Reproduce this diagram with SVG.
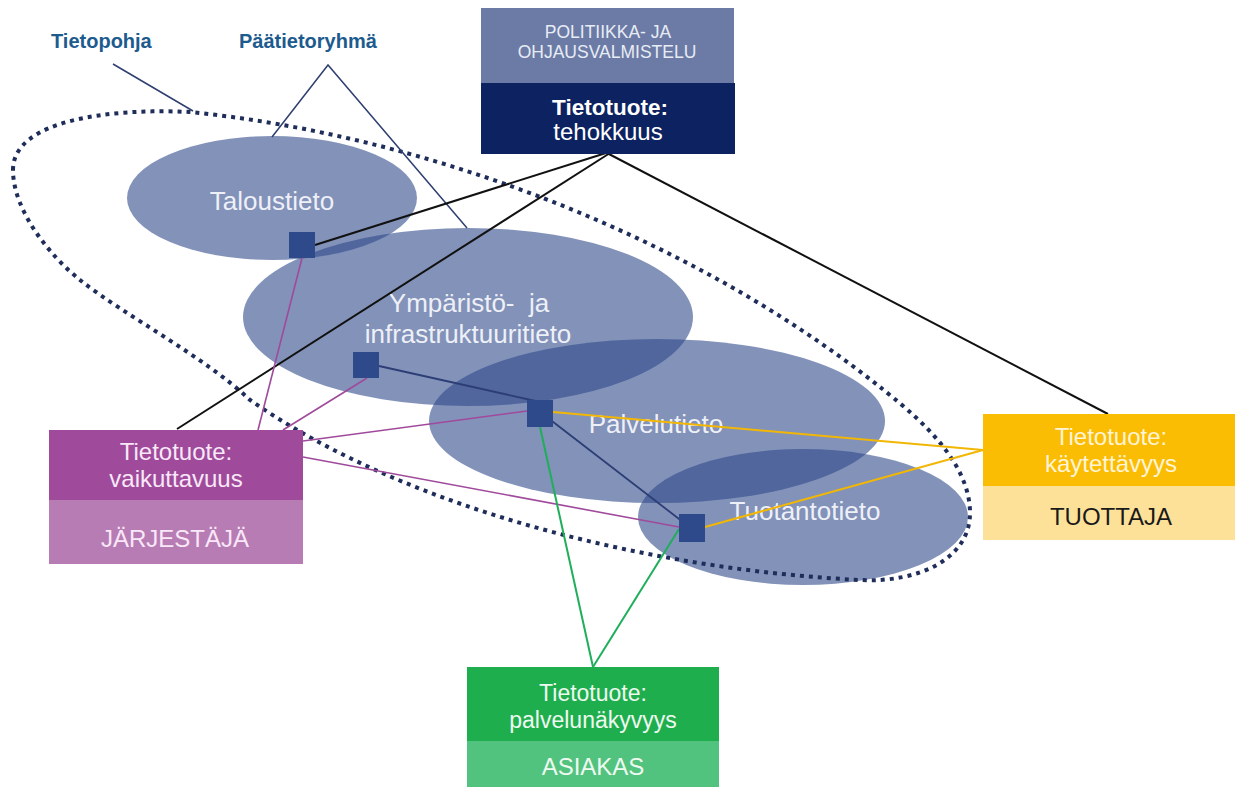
<svg xmlns="http://www.w3.org/2000/svg" width="1235" height="787" viewBox="0 0 1235 787">
  <style>
    text { font-family: "Liberation Sans", Arial, sans-serif; text-anchor: middle; }
    .blob { fill: #2f4a8a; fill-opacity: 0.6; }
    .blobtxt { font-size: 26px; fill: #eef0f7; white-space: pre; }
    .hub { fill: #2e4a8a; }
    .lbl { font-size: 20px; font-weight: bold; fill: #1d5b8e; text-anchor: start; }
    .boxtxt { font-size: 24px; }
    .c-lead { stroke: #2e3f70; stroke-width: 1.5; fill: none; }
    .c-black { stroke: #111; stroke-width: 2; fill: none; }
    .c-purple { stroke: #a04a9c; stroke-width: 1.6; fill: none; }
    .c-navy { stroke: #2c3e75; stroke-width: 1.8; fill: none; }
    .c-yellow { stroke: #f2b705; stroke-width: 2; fill: none; }
    .c-green { stroke: #1fae5a; stroke-width: 2; fill: none; }
  </style>

  <rect width="1235" height="787" fill="#ffffff"/>

  <!-- data group ellipses -->
  <g id="talous">
    <ellipse class="blob" cx="272" cy="198" rx="145" ry="62"/>
    <text class="blobtxt" x="272" y="210">Taloustieto</text>
  </g>
  <g id="ymparisto">
    <ellipse class="blob" cx="468" cy="317" rx="225" ry="89"/>
    <text class="blobtxt" x="469" y="312">Ympäristö-  ja</text>
    <text class="blobtxt" x="468" y="343">infrastruktuuritieto</text>
  </g>
  <g id="palvelu">
    <ellipse class="blob" cx="657" cy="421" rx="228" ry="82"/>
    <text class="blobtxt" x="656" y="433">Palvelutieto</text>
  </g>
  <g id="tuotanto">
    <ellipse class="blob" cx="803" cy="517" rx="165" ry="68"/>
    <text class="blobtxt" x="805" y="520">Tuotantotieto</text>
  </g>

  <!-- knowledge base outline -->
  <g id="tietopohja-outline">
    <path d="M13,170 C13,120 110,108 190,112 C420,135 685,232 880,387 C911,412 970,458 970,513 C970,558 920,583 860,580 C660,570 414,514 250,400 C205,357 127,317 80,280 C49,255 13,210 13,170 Z"
          fill="none" stroke="#1f2d5a" stroke-width="4" stroke-dasharray="4 5"/>
  </g>

  <!-- labels -->
  <g id="label-tietopohja">
    <text class="lbl" x="51" y="48">Tietopohja</text>
  </g>
  <g id="label-paatietoryhma">
    <text class="lbl" x="239" y="48">Päätietoryhmä</text>
  </g>

  <!-- connectors -->
  <g id="connectors">
    <line class="c-lead" x1="113" y1="64" x2="193" y2="111"/>
    <polyline class="c-lead" points="272,137 328,65 467,228"/>

    <line class="c-black" x1="315" y1="245" x2="606" y2="153"/>
    <line class="c-black" x1="177" y1="429" x2="610" y2="153"/>
    <line class="c-black" x1="607" y1="153" x2="1108" y2="414"/>

    <line class="c-purple" x1="302" y1="258" x2="258" y2="430"/>
    <line class="c-purple" x1="367" y1="378" x2="283" y2="430"/>
    <line class="c-purple" x1="527" y1="411" x2="303" y2="441"/>
    <line class="c-purple" x1="303" y1="457" x2="679" y2="527"/>

    <line class="c-navy" x1="379" y1="366" x2="540" y2="402"/>
    <line class="c-navy" x1="548" y1="418" x2="683" y2="522"/>

    <line class="c-yellow" x1="553" y1="412" x2="983" y2="450"/>
    <line class="c-yellow" x1="705" y1="527" x2="983" y2="450"/>

    <line class="c-green" x1="540" y1="427" x2="593" y2="667"/>
    <line class="c-green" x1="679" y1="529" x2="593" y2="667"/>
  </g>

  <!-- hubs -->
  <g id="hub-talous"><rect class="hub" x="289" y="232" width="26" height="26"/></g>
  <g id="hub-ymparisto"><rect class="hub" x="353" y="352" width="26" height="26"/></g>
  <g id="hub-palvelu"><rect class="hub" x="527" y="400" width="26" height="27"/></g>
  <g id="hub-tuotanto"><rect class="hub" x="679" y="514" width="26" height="28"/></g>

  <!-- product boxes -->
  <g id="tehokkuus">
    <rect x="481" y="8" width="253" height="75" fill="#6b7ba5"/>
    <rect x="481" y="83" width="254" height="71" fill="#0c2261"/>
    <text x="608" y="38" font-size="17.5" fill="#e8ecf5">POLITIIKKA- JA</text>
    <text x="607" y="58" font-size="17.5" fill="#e8ecf5">OHJAUSVALMISTELU</text>
    <text x="610" y="115" font-size="22.5" font-weight="bold" fill="#ffffff">Tietotuote:</text>
    <text x="608" y="140" class="boxtxt" fill="#ffffff">tehokkuus</text>
  </g>

  <g id="vaikuttavuus">
    <rect x="49" y="430" width="254" height="70" fill="#9f4a9b"/>
    <rect x="49" y="500" width="254" height="64" fill="#b87cb5"/>
    <text x="176" y="460" class="boxtxt" fill="#f8e8f8">Tietotuote:</text>
    <text x="176" y="487" class="boxtxt" fill="#f8e8f8">vaikuttavuus</text>
    <text x="175" y="547" class="boxtxt" fill="#f8e8f8">JÄRJESTÄJÄ</text>
  </g>

  <g id="kaytettavyys">
    <rect x="983" y="414" width="252" height="72" fill="#fbbc04"/>
    <rect x="983" y="486" width="252" height="54" fill="#fee198"/>
    <text x="1111" y="445" class="boxtxt" fill="#fff4d6">Tietotuote:</text>
    <text x="1111" y="472" class="boxtxt" fill="#fff4d6">käytettävyys</text>
    <text x="1111" y="525" class="boxtxt" fill="#1a1a1a">TUOTTAJA</text>
  </g>

  <g id="palvelunakyvyys">
    <rect x="467" y="667" width="252" height="74" fill="#1fae4e"/>
    <rect x="467" y="741" width="252" height="46" fill="#52c27f"/>
    <text x="593" y="701" font-size="23" fill="#eefaf0">Tietotuote:</text>
    <text x="593" y="728" font-size="23" fill="#eefaf0">palvelunäkyvyys</text>
    <text x="593" y="775" class="boxtxt" fill="#eefaf0">ASIAKAS</text>
  </g>
</svg>
